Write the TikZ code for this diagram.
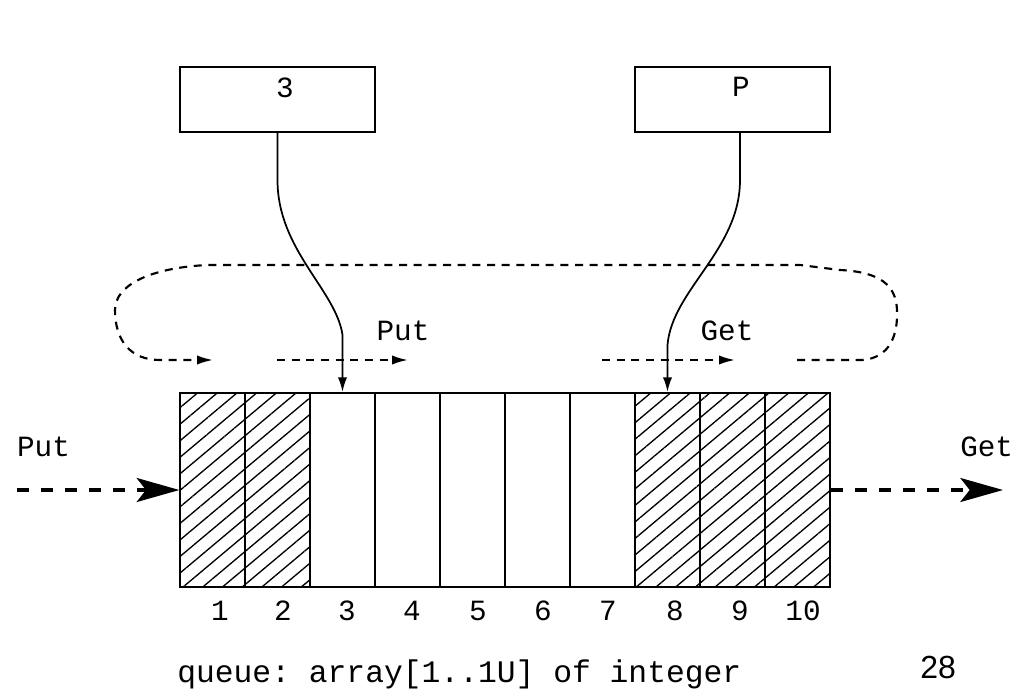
\documentclass[tikz,border=0pt]{standalone}
\usepackage{fontspec}
\setmonofont{Liberation Mono}
\newfontfamily\pagenofont{Liberation Sans}
\usetikzlibrary{
    arrows.meta,
    patterns.meta
}

\begin{document}
\begin{tikzpicture}[x=0.75pt, y=-0.75pt,
    mono/.style={font=\ttfamily\fontsize{22}{26}\selectfont, inner sep=0pt},
    num/.style={font=\ttfamily\fontsize{22}{26}\selectfont, inner sep=0pt},
    cell/.style={draw, line width=1.6pt, minimum width=48.75pt, minimum height=145.5pt, inner sep=0pt},
    hatched/.style={cell, pattern={Lines[angle=40, distance=9.5pt, line width=1pt]}},
    ptrbox/.style={draw, line width=1.6pt, minimum width=146.25pt, minimum height=48.75pt, inner sep=0pt},
    ptr/.style={line width=1.3pt, -{Latex[length=11pt, width=7pt]}},
    loop/.style={line width=1.6pt, dash pattern=on 6pt off 5pt, -{Latex[length=12pt, width=7pt]}},
    flow/.style={line width=2.4pt, dash pattern=on 9pt off 9pt, -{Stealth[length=32pt, width=18pt, inset=7pt]}}]
            \useasboundingbox (0,0) rectangle (1023,691);

            % pointer boxes
            \node[ptrbox] (ptrput) at (277.5, 99.5) {};
            \node[ptrbox] (ptrget) at (732.5, 99.5) {};
            \node[mono] (valput) at (285, 88) {3};
            \node[mono] (valget) at (741, 87) {P};

            % the array
            \node[hatched] (cell1)  at (212.5, 490) {};
            \node[hatched] (cell2)  at (277.5, 490) {};
            \node[cell]    (cell3)  at (342.5, 490) {};
            \node[cell]    (cell4)  at (407.5, 490) {};
            \node[cell]    (cell5)  at (472.5, 490) {};
            \node[cell]    (cell6)  at (537.5, 490) {};
            \node[cell]    (cell7)  at (602.5, 490) {};
            \node[hatched] (cell8)  at (667.5, 490) {};
            \node[hatched] (cell9)  at (732.5, 490) {};
            \node[hatched] (cell10) at (797.5, 490) {};

            \node[num] (num1)  at (220, 611) {1};
            \node[num] (num2)  at (283, 611) {2};
            \node[num] (num3)  at (347, 611) {3};
            \node[num] (num4)  at (412, 611) {4};
            \node[num] (num5)  at (478, 611) {5};
            \node[num] (num6)  at (543, 611) {6};
            \node[num] (num7)  at (608, 611) {7};
            \node[num] (num8)  at (675, 611) {8};
            \node[num] (num9)  at (740, 611) {9};
            \node[num] (num10) at (803, 611) {10};

            % pointers into the array
            \draw[ptr] (ptrput.south) -- (277.5, 180) .. controls (277.5, 250) and (336, 290) .. (342.5, 335) -- (cell3.north);
            \draw[ptr] ([xshift=5.6pt]ptrget.south) -- (740, 180) .. controls (740, 250) and (672, 290) .. (667.5, 345) -- (cell8.north);

            % circular movement
            \coordinate (loopstart) at (797, 360);
            \coordinate (loopend)   at (213, 360);
            \coordinate (putfrom)   at (277, 360);
            \coordinate (putto)     at (408, 360);
            \coordinate (getfrom)   at (602, 360);
            \coordinate (getto)     at (735, 360);
            \draw[loop] (loopstart) -- (862, 360) .. controls (890, 358) and (898, 335) .. (897, 310)
                .. controls (896, 285) and (880, 272) .. (840, 270) -- (800, 265) -- (207, 265)
                .. controls (150, 268) and (115, 285) .. (115, 310)
                .. controls (115, 340) and (130, 360) .. (160, 360) -- (loopend);
            \draw[loop] (putfrom)--(putto);
            \draw[loop] (getfrom)--(getto);
            \node[mono] (lblput) at (403, 331) {Put};
            \node[mono] (lblget) at (727, 331) {Get};

            % in and out
            \coordinate (putin)  at (17, 490);
            \coordinate (getout) at (1003, 490);
            \draw[flow] (putin)--(cell1.west);
            \draw[flow] (cell10.east)--(getout);
            \node[mono] (inlbl) at (43.5, 447) {Put};
            \node[mono, anchor=west] (outlbl) at (960, 447) {Get};

            \node[font=\ttfamily\fontsize{23.5}{28}\selectfont, inner sep=0pt, anchor=base west] (caption) at (177, 682) {queue: array[1..1U] of integer};
            \node[font=\pagenofont\fontsize{24}{29}\selectfont, inner sep=0pt, anchor=north west] (pageno) at (920, 656) {28};
\end{tikzpicture}
\end{document}
